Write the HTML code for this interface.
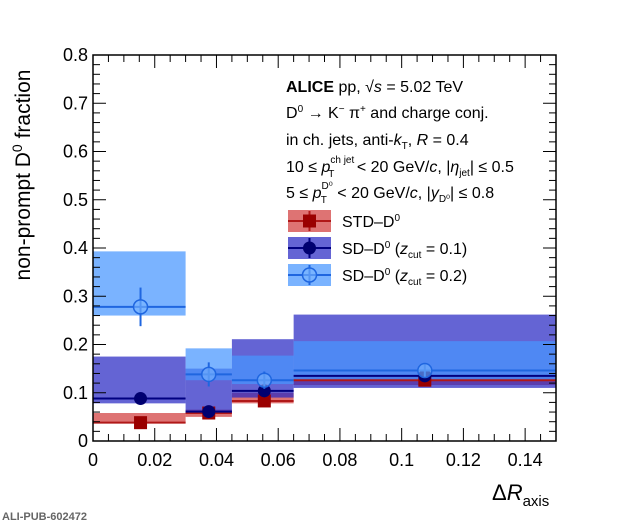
<!DOCTYPE html>
<html><head><meta charset="utf-8"><style>
body{margin:0;background:#fff;}
svg text{font-family:"Liberation Sans",sans-serif;}
</style></head><body>
<svg width="620" height="524" viewBox="0 0 620 524">
<g id="marks"></g>
<g id="axes"></g>
<text x="30" y="175" font-size="21" text-anchor="middle" transform="rotate(-90 30 175)">non-prompt D<tspan dy="-8" font-size="14">0</tspan><tspan dy="8"> fraction</tspan></text>
<text x="492" y="500" font-size="22">Δ<tspan font-style="italic">R</tspan><tspan dy="6" font-size="15">axis</tspan></text>
<text x="2" y="520" font-size="11" fill="#666" font-family="Liberation Mono" font-weight="bold">ALI-PUB-602472</text>
<g font-size="16">
<text x="286" y="92"><tspan font-weight="bold">ALICE</tspan> pp, √<tspan font-style="italic">s</tspan> = 5.02 TeV</text>
<text x="286" y="118">D<tspan dy="-6" font-size="10">0</tspan><tspan dy="6"> → K</tspan><tspan dy="-6" font-size="10">−</tspan><tspan dy="6"> π</tspan><tspan dy="-6" font-size="10">+</tspan><tspan dy="6"> and charge conj.</tspan></text>
<text x="286" y="145">in ch. jets, anti-<tspan font-style="italic">k</tspan><tspan dy="4" font-size="10">T</tspan><tspan dy="-4">, </tspan><tspan font-style="italic">R</tspan> = 0.4</text>
<text x="286" y="172">10 ≤ <tspan font-style="italic">p</tspan><tspan dy="-9" font-size="10">ch jet</tspan><tspan dx="-26" dy="14" font-size="10">T</tspan><tspan dx="18" dy="-5"> &lt; 20 GeV/</tspan><tspan font-style="italic">c</tspan>, |<tspan font-style="italic">η</tspan><tspan dy="4" font-size="10">jet</tspan><tspan dy="-4">| ≤ 0.5</tspan></text>
<text x="286" y="198">5 ≤ <tspan font-style="italic">p</tspan><tspan dy="-9" font-size="10">D⁰</tspan><tspan dx="-12" dy="14" font-size="10">T</tspan><tspan dx="6" dy="-5"> &lt; 20 GeV/</tspan><tspan font-style="italic">c</tspan>, |<tspan font-style="italic">y</tspan><tspan dy="4" font-size="10">D⁰</tspan><tspan dy="-4">| ≤ 0.8</tspan></text>
</g>
<g id="legend" font-size="16"></g>
</svg>
<script>
const ns="http://www.w3.org/2000/svg";
const binLo=[0,0.03,0.045,0.065];
const binHi=[0.03,0.045,0.065,0.15];
const ptX=[0.0154,0.0375,0.0555,0.1075];
const stdVal=[0.038,0.058,0.083,0.126];
const stdSysLo=[0.037,0.050,0.078,0.116];
const stdSysHi=[0.058,0.065,0.100,0.137];
const stdErr=[0.006,0.006,0.008,0.007];
const sd1Val=[0.088,0.061,0.104,0.135];
const sd1SysLo=[0.078,0.058,0.090,0.110];
const sd1SysHi=[0.175,0.150,0.211,0.262];
const sd1Err=[0.007,0.007,0.012,0.012];
const sd2Val=[0.278,0.138,0.126,0.146];
const sd2SysLo=[0.260,0.126,0.118,0.125];
const sd2SysHi=[0.393,0.192,0.177,0.207];
const sd2Err=[0.040,0.025,0.018,0.015];
const xTicks=[0,0.02,0.04,0.06,0.08,0.1,0.12,0.14];
const yTicks=[0,0.1,0.2,0.3,0.4,0.5,0.6,0.7,0.8];
const X0=93,X1=556,Y0=441,Y1=55;
const sx=v=>X0+(v/0.15)*(X1-X0);
const sy=v=>Y0-(v/0.8)*(Y0-Y1);
const marks=document.getElementById('marks');
function mk(tag,attrs,parent){const e=document.createElementNS(ns,tag);for(const k in attrs)e.setAttribute(k,attrs[k]);(parent||marks).appendChild(e);return e;}
const series=[
 {v:stdVal,lo:stdSysLo,hi:stdSysHi,er:stdErr,fill:"rgba(205,40,40,0.65)",line:"#b01818",mk:"#9a0000",shape:"sq",name:"std"},
 {v:sd1Val,lo:sd1SysLo,hi:sd1SysHi,er:sd1Err,fill:"rgba(40,40,195,0.72)",line:"#000080",mk:"#000070",shape:"circ",name:"sd-zcut01"},
 {v:sd2Val,lo:sd2SysLo,hi:sd2SysHi,er:sd2Err,fill:"rgba(70,150,255,0.72)",line:"#1f66e0",mk:"#1f66e0",shape:"open",name:"sd-zcut02"}
];
series.forEach(s=>{
 for(let i=0;i<binLo.length;i++){
  const r=mk('rect',{x:sx(binLo[i]),y:sy(s.hi[i]),width:sx(binHi[i])-sx(binLo[i]),height:sy(s.lo[i])-sy(s.hi[i]),fill:s.fill});
  
  
 }
});
series.forEach(s=>{
 for(let i=0;i<binLo.length;i++){
  const g=mk('g',{});
  
  
  mk('line',{x1:sx(binLo[i]),x2:sx(binHi[i]),y1:sy(s.v[i]),y2:sy(s.v[i]),stroke:s.line,'stroke-width':2},g);
  mk('line',{x1:sx(ptX[i]),x2:sx(ptX[i]),y1:sy(s.v[i]-s.er[i]),y2:sy(s.v[i]+s.er[i]),stroke:s.line,'stroke-width':2},g);
  const cx=sx(ptX[i]),cy=sy(s.v[i]);
  if(s.shape=="sq")mk('rect',{x:cx-6.5,y:cy-6.5,width:13,height:13,fill:s.mk},g);
  else if(s.shape=="circ")mk('circle',{cx:cx,cy:cy,r:6.5,fill:s.mk},g);
  else mk('circle',{cx:cx,cy:cy,r:7,fill:"rgba(120,180,255,0.6)",stroke:s.mk,'stroke-width':1.5},g);
 }
});
const ax=document.getElementById('axes');
mk('rect',{x:X0,y:Y1,width:X1-X0,height:Y0-Y1,fill:"none",stroke:"#000",'stroke-width':1.5},ax);
for(let v=0;v<=0.15001;v+=0.005){
 const maj=Math.abs(v/0.02-Math.round(v/0.02))<1e-6;const x=sx(v);
 mk('line',{x1:x,x2:x,y1:Y0,y2:Y0-(maj?13:7),stroke:"#000"},ax);
 mk('line',{x1:x,x2:x,y1:Y1,y2:Y1+(maj?13:7),stroke:"#000"},ax);
}
for(let v=0;v<=0.8001;v+=0.02){
 const maj=Math.abs(v/0.1-Math.round(v/0.1))<1e-6;const y=sy(v);
 mk('line',{x1:X0,x2:X0+(maj?13:7),y1:y,y2:y,stroke:"#000"},ax);
 mk('line',{x1:X1,x2:X1-(maj?13:7),y1:y,y2:y,stroke:"#000"},ax);
}
xTicks.forEach(v=>{const t=mk('text',{x:sx(v),y:Y0+25,'font-size':18,'text-anchor':'middle'},ax);t.textContent=String(v);
 
 });
yTicks.forEach(v=>{const t=mk('text',{x:X0-5,y:sy(v)+6,'font-size':18,'text-anchor':'end'},ax);t.textContent=v===0?"0":v.toFixed(1);
 
 });
const lg=document.getElementById('legend');
series.forEach((s,k)=>{
 const y=221+k*27;
 const g=mk('g',{},lg);
 
 
 mk('rect',{x:288,y:y-11,width:43,height:22,fill:s.fill},g);
 mk('line',{x1:288,x2:331,y1:y,y2:y,stroke:s.line,'stroke-width':2},g);
 mk('line',{x1:309.5,x2:309.5,y1:y-10,y2:y+10,stroke:s.line,'stroke-width':2},g);
 if(s.shape=="sq")mk('rect',{x:303,y:y-6.5,width:13,height:13,fill:s.mk},g);
 else if(s.shape=="circ")mk('circle',{cx:309.5,cy:y,r:6.5,fill:s.mk},g);
 else mk('circle',{cx:309.5,cy:y,r:7,fill:"rgba(120,180,255,0.6)",stroke:s.mk,'stroke-width':1.5},g);
 const t=mk('text',{x:342,y:y+6},g);
 if(k==0)t.innerHTML='STD–D<tspan dy="-6" font-size="10">0</tspan>';
 else t.innerHTML='SD–D<tspan dy="-6" font-size="10">0</tspan><tspan dy="6"> (</tspan><tspan font-style="italic">z</tspan><tspan dy="4" font-size="10">cut</tspan><tspan dy="-4"> = '+(k==1?'0.1':'0.2')+')</tspan>';
});
</script>
</body></html>
